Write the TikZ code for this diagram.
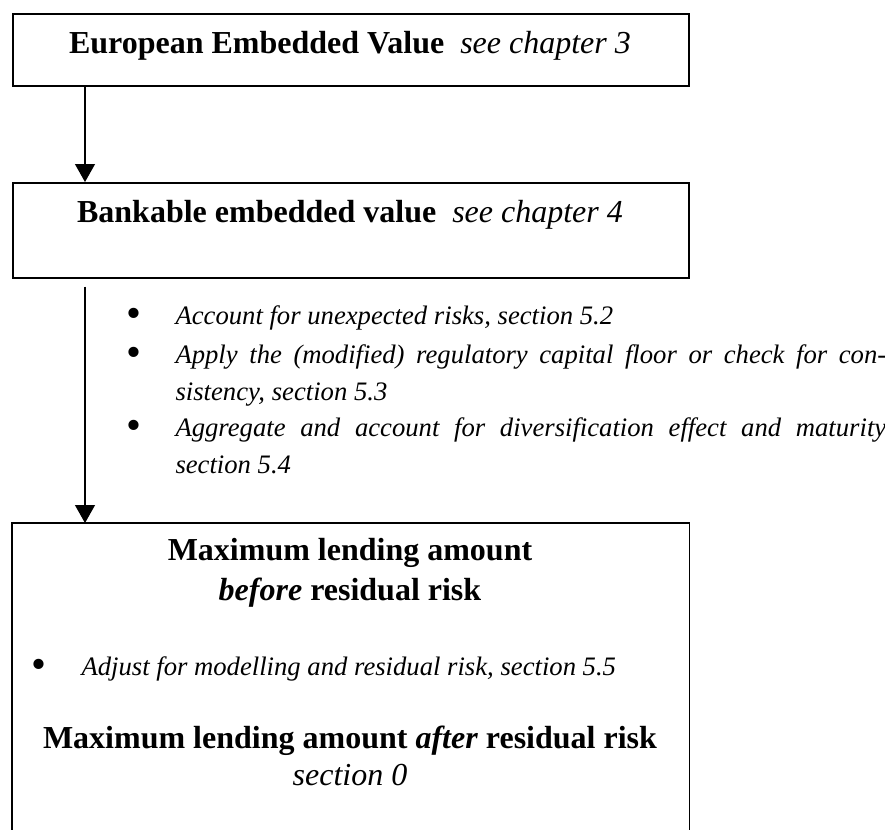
\documentclass[tikz,border=0pt]{standalone}
\usepackage{fontspec}
\setmainfont{Liberation Serif}
\usetikzlibrary{arrows.meta}

\begin{document}
\begin{tikzpicture}[x=0.375pt, y=-0.375pt,
    box/.style={draw, rectangle, line width=0.6pt, minimum width=253.5pt, inner sep=0pt, anchor=north west},
    head/.style={font=\fontsize{12}{15}\selectfont\bfseries, anchor=base, inner sep=0pt},
    ref/.style={font=\fontsize{12}{15}\selectfont\itshape, anchor=base, inner sep=0pt},
    note/.style={font=\fontsize{10}{13.9}\selectfont\itshape, anchor=base west, inner sep=0pt,
                 text width=266.5pt, align=justify,
                 execute at begin node={\tolerance=9999 \hyphenpenalty=10000 }},
    dot/.style={font=\fontsize{16}{16}\selectfont, anchor=base, inner sep=0pt},
    flow/.style={-{Triangle[length=6.75pt, width=7.5pt]}, line width=0.45pt}]
  \useasboundingbox (0,0) rectangle (885,830);

  % the three stages
  \node [box, minimum height=27pt] (EEV) at (12,13) {};
  \node [box, minimum height=35.625pt] (BEV) at (12,182) {};
  \node [box, draw=none, minimum height=115.125pt] (MLA) at (12,523) {};
  \draw [line width=0.6pt] (MLA.south west) -- (MLA.north west) -- (MLA.north east) -- (MLA.south east);

  \node [head] (EEVt) at (350,53) {European Embedded Value\ \ {\mdseries\itshape see chapter 3}};
  \node [head] (BEVt) at (350,222) {Bankable embedded value\ \ {\mdseries\itshape see chapter 4}};

  % steps between bankable value and lending amount
  \node [dot] (d1) at (134,327) {\textbullet};
  \node [note] (s1) at (175,324) {Account for unexpected risks, section 5.2};
  \node [dot] (d2) at (134,366) {\textbullet};
  \node [note] (s2) at (175,363) {Apply the (modified) regulatory capital floor or check for con-\linebreak sistency, section 5.3};
  \node [dot] (d3) at (134,439) {\textbullet};
  \node [note] (s3) at (175,436) {Aggregate and account for diversification effect and maturity\linebreak section 5.4};

  % lending amount box
  \node [head] (MLA1) at (350,560) {Maximum lending amount};
  \node [head] (MLA2) at (350,600) {\textit{before} residual risk};
  \node [dot] (d4) at (39,678) {\textbullet};
  \node [note] (s4) at (81,675) {Adjust for modelling and residual risk, section 5.5};
  \node [head] (MLA3) at (350,748) {Maximum lending amount \textit{after} residual risk};
  \node [ref] (MLA4) at (350,785) {section 0};

  \draw [flow] ([shift={(73,0)}]EEV.south west) -- ([shift={(73,0)}]BEV.north west);
  \draw [flow] ([shift={(73,8)}]BEV.south west) -- ([shift={(73,0)}]MLA.north west);
\end{tikzpicture}
\end{document}
